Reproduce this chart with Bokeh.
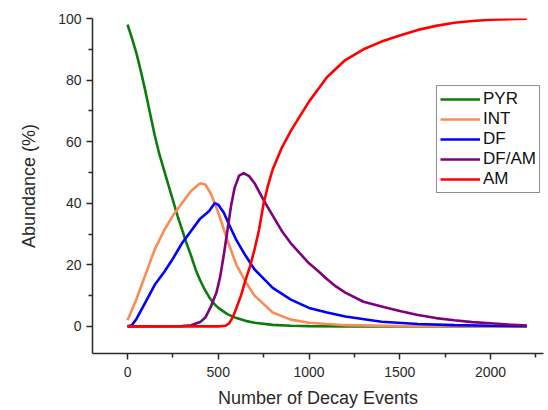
from bokeh.plotting import figure
from bokeh.models import Range1d, FixedTicker, Legend, LegendItem
from bokeh.embed import file_html
from bokeh.resources import INLINE

# ---- data ----
pyr_x = [0, 25, 50, 75, 100, 125, 150, 175, 200, 225, 250, 275, 300, 325, 350, 375, 400, 425, 450, 475, 500, 550, 600, 650, 700, 800, 900, 1000, 1200, 2200]
pyr_y = [98, 93.5, 88.5, 82.5, 76, 69, 62, 56, 51, 46, 41, 36, 31.5, 27, 23, 18.5, 15, 12, 9.5, 7.5, 6, 4, 2.7, 1.8, 1.2, 0.5, 0.2, 0.1, 0, 0]

int_x = [0, 50, 100, 150, 200, 250, 300, 350, 400, 430, 460, 500, 550, 600, 650, 700, 800, 900, 1000, 1200, 1500, 2200]
int_y = [2, 9, 17, 25, 31, 36, 40, 44, 46.5, 46, 43, 37, 28, 20, 14.5, 10, 4.5, 2.2, 1.2, 0.4, 0.1, 0]

df_x = [0, 25, 50, 100, 150, 200, 250, 300, 350, 400, 450, 480, 500, 530, 560, 600, 650, 700, 800, 900, 1000, 1100, 1200, 1400, 1600, 1800, 2000, 2200]
df_y = [0, 0.5, 2.5, 8, 13.5, 17.5, 22, 27, 31, 35, 37.5, 40, 39.5, 37, 33, 28, 23, 18.5, 12.5, 8.7, 6, 4.5, 3.2, 1.5, 0.8, 0.4, 0.2, 0.1]

dfam_x = [0, 300, 350, 400, 430, 460, 490, 510, 530, 550, 570, 590, 615, 640, 670, 700, 750, 800, 850, 900, 950, 1000, 1050, 1100, 1150, 1200, 1300, 1400, 1500, 1600, 1700, 1800, 1900, 2000, 2100, 2200]
dfam_y = [0, 0.1, 0.4, 1.4, 3, 6.5, 11, 16, 23, 31, 39, 45, 49, 49.8, 48.8, 46.5, 41, 36, 31, 27, 23.7, 20.5, 18, 15.3, 12.9, 11, 8, 6.5, 5, 3.7, 2.7, 2, 1.4, 1, 0.6, 0.3]

am_x = [0, 500, 540, 560, 580, 600, 625, 650, 675, 700, 725, 750, 775, 800, 850, 900, 950, 1000, 1050, 1100, 1200, 1300, 1400, 1500, 1600, 1700, 1800, 1900, 2000, 2200]
am_y = [0, 0, 0.2, 1, 3, 6, 10, 15, 19.5, 25, 31.5, 40, 46, 51, 58, 63.5, 68.3, 73, 77, 81, 86.5, 90, 92.5, 94.5, 96.3, 97.6, 98.6, 99.2, 99.6, 99.9]

series_names = ["PYR", "INT", "DF", "DF/AM", "AM"]
x_major = [0, 500, 1000, 1500, 2000]
x_minor = [250, 750, 1250, 1750, 2250]
y_major = [0, 20, 40, 60, 80, 100]
y_minor = [10, 30, 50, 70, 90]

colors = ["#0a7d0a", "#fa8c55", "#0000ff", "#800080", "#ff0000"]

p = figure(width=548, height=410, output_backend="svg", toolbar_location=None,
           x_range=Range1d(-193, 2292), y_range=Range1d(-8.8, 100),
           min_border_left=92, min_border_right=5, min_border_top=18, min_border_bottom=57)
p.outline_line_color = None
p.xgrid.grid_line_color = None
p.ygrid.grid_line_color = None

data = [(pyr_x, pyr_y), (int_x, int_y), (df_x, df_y), (dfam_x, dfam_y), (am_x, am_y)]
renderers = []
for (xs, ys), c in zip(data, colors):
    r = p.line(xs, ys, line_color=c, line_width=2.6)
    renderers.append(r)

p.xaxis.ticker = FixedTicker(ticks=x_major, minor_ticks=x_minor)
p.yaxis.ticker = FixedTicker(ticks=y_major, minor_ticks=y_minor)

txt = "#2a2a2a"
for ax in (p.xaxis[0], p.yaxis[0]):
    ax.axis_line_color = txt
    ax.axis_line_width = 1.5
    ax.major_tick_line_color = txt
    ax.minor_tick_line_color = txt
    ax.major_tick_line_width = 1.5
    ax.minor_tick_line_width = 1.5
    ax.major_tick_in = 0
    ax.major_tick_out = 6
    ax.minor_tick_in = 0
    ax.minor_tick_out = 4
    ax.major_label_text_font = "Liberation Sans"
    ax.major_label_text_font_size = "14px"
    ax.major_label_text_color = txt
    ax.axis_label_text_font = "Liberation Sans"
    ax.axis_label_text_font_size = "18px"
    ax.axis_label_text_font_style = "normal"
    ax.axis_label_text_color = txt

p.xaxis.axis_label = "Number of Decay Events"
p.yaxis.axis_label = "Abundance (%)"
p.xaxis.major_label_standoff = 7
p.xaxis.axis_label_standoff = 8
p.yaxis.major_label_standoff = 5
p.yaxis.axis_label_standoff = 16

legend = Legend(items=[LegendItem(label=n, renderers=[r]) for n, r in zip(series_names, renderers)],
                location=(344, 160))
legend.border_line_color = "#222222"
legend.border_line_width = 1
legend.background_fill_alpha = 1
legend.label_text_font = "Liberation Sans"
legend.label_text_font_size = "17px"
legend.label_text_color = "#111111"
legend.glyph_width = 40
legend.glyph_height = 20
legend.label_height = 20
legend.label_standoff = 3
legend.spacing = 0
legend.padding = 3
legend.margin = 0
p.add_layout(legend, "center")

open("out.html", "w").write(file_html(p, INLINE))
